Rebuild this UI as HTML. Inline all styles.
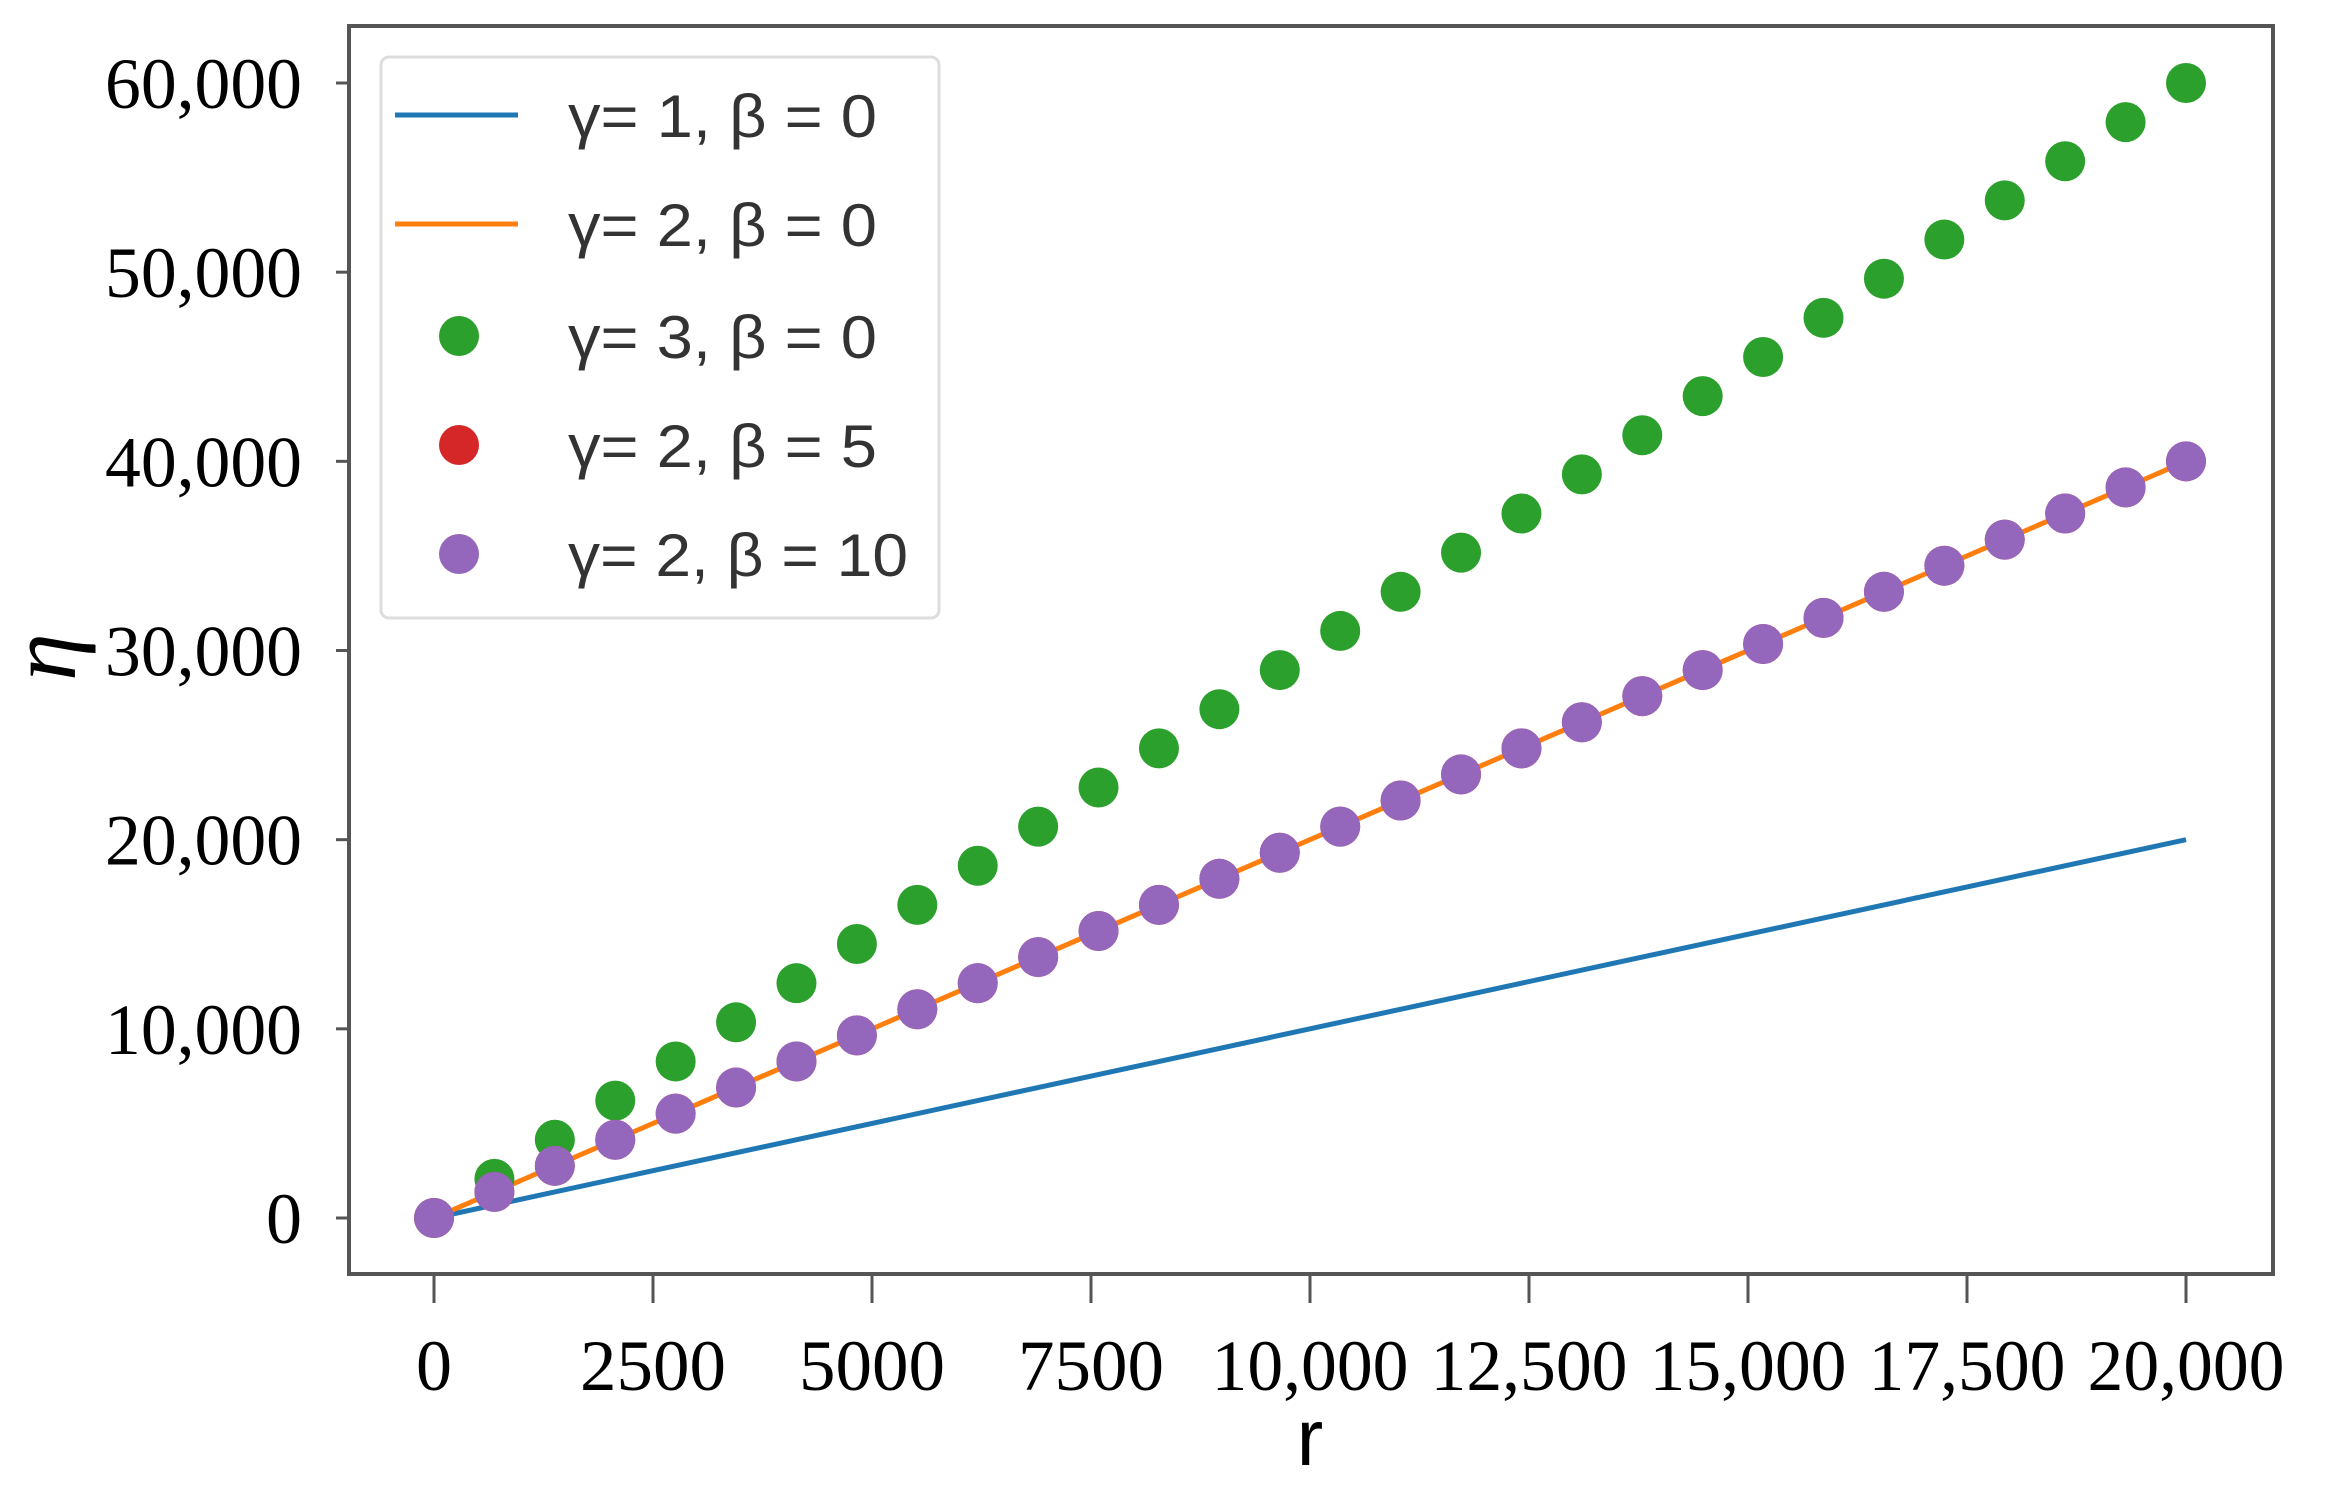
<!DOCTYPE html>
<html><head><meta charset="utf-8"><style>html,body{margin:0;padding:0;background:#fff}svg{display:block}</style></head>
<body>
<svg xmlns="http://www.w3.org/2000/svg" width="2339" height="1496" viewBox="0 0 2339 1496">
<rect width="2339" height="1496" fill="#fff"/>
<g id="plot"></g>
<rect x="349" y="26" width="1924" height="1248" fill="none" stroke="#555" stroke-width="4"/>
<g stroke="#555" stroke-width="3" id="ticks"></g>
<g font-family="Liberation Serif, serif" font-size="72" fill="#000" id="labels"></g>
<text x="1310" y="1465" font-family="Liberation Sans, sans-serif" font-size="80" text-anchor="middle">r</text>
<text transform="translate(75,657) rotate(-90)" font-family="Liberation Serif, serif" font-style="italic" font-size="96" text-anchor="middle">η</text>
<g id="legend">
<rect x="381" y="57" width="558" height="561" rx="8" fill="#fff" stroke="#ddd" stroke-width="3"/>
<line x1="395" y1="115" x2="518" y2="115" stroke="#1f77b4" stroke-width="5"/>
<line x1="395" y1="224" x2="518" y2="224" stroke="#ff7f0e" stroke-width="5"/>
<circle cx="459" cy="336" r="20" fill="#2ca02c"/>
<circle cx="459" cy="445" r="20" fill="#d62728"/>
<circle cx="459" cy="554" r="20" fill="#9467bd"/>
<g font-family="Liberation Sans, sans-serif" font-size="60" fill="#333">
<text x="568" y="137" textLength="309" lengthAdjust="spacingAndGlyphs">γ= 1, β = 0</text>
<text x="568" y="246" textLength="309" lengthAdjust="spacingAndGlyphs">γ= 2, β = 0</text>
<text x="568" y="358" textLength="309" lengthAdjust="spacingAndGlyphs">γ= 3, β = 0</text>
<text x="568" y="467" textLength="309" lengthAdjust="spacingAndGlyphs">γ= 2, β = 5</text>
<text x="568" y="576" textLength="340" lengthAdjust="spacingAndGlyphs">γ= 2, β = 10</text>
</g>
</g>
<script>
(function(){
var NS="http://www.w3.org/2000/svg";
function X(v){return 434+(v/20000)*(2186-434);}
function Y(v){return 1218-(v/60000)*(1218-83);}
function el(p,t,a,txt){var e=document.createElementNS(NS,t);for(var k in a)e.setAttribute(k,a[k]);if(txt!=null)e.textContent=txt;p.appendChild(e);return e;}
var plot=document.getElementById('plot');
el(plot,'line',{x1:X(0),y1:Y(0),x2:X(20000),y2:Y(20000),stroke:'#1f77b4','stroke-width':5});
el(plot,'line',{x1:X(0),y1:Y(0),x2:X(20000),y2:Y(40000),stroke:'#ff7f0e','stroke-width':5});
for(var i=0;i<30;i++){var r=20000*i/29;el(plot,'circle',{cx:X(r),cy:Y(3*r),r:20,fill:'#2ca02c'});}
for(var i=0;i<30;i++){var r=20000*i/29;el(plot,'circle',{cx:X(r),cy:Y(2*r),r:20,fill:'#d62728'});}
for(var i=0;i<30;i++){var r=20000*i/29;el(plot,'circle',{cx:X(r),cy:Y(2*r),r:20,fill:'#9467bd'});}
var tk=document.getElementById('ticks'),lb=document.getElementById('labels');
var yl=['0','10,000','20,000','30,000','40,000','50,000','60,000'];
for(var j=0;j<7;j++){var y=Y(j*10000);el(tk,'line',{x1:336,y1:y,x2:349,y2:y});
 var a={x:302,y:y+25,'text-anchor':'end'};if(j>0){a.textLength=197;a.lengthAdjust='spacingAndGlyphs';}el(lb,'text',a,yl[j]);}
var xl=['0','2500','5000','7500','10,000','12,500','15,000','17,500','20,000'];
for(var j=0;j<9;j++){var x=X(j*2500);el(tk,'line',{x1:x,y1:1274,x2:x,y2:1303});
 var a={x:x,y:1390,'text-anchor':'middle'};if(j>0){a.textLength=(xl[j].length>4?197:146);a.lengthAdjust='spacingAndGlyphs';}el(lb,'text',a,xl[j]);}
})();
</script>
</svg>
</body></html>
